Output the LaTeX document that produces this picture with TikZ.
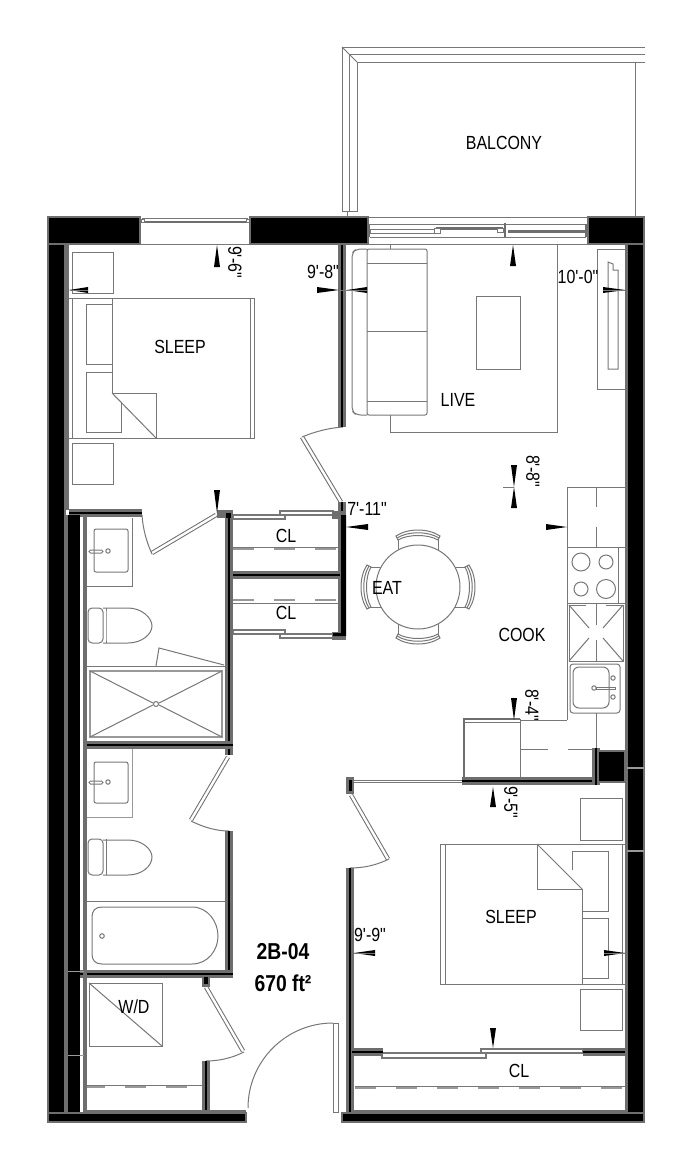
\documentclass[tikz,border=0pt]{standalone}
\usepackage{fontspec}
\newfontfamily\lab[FakeStretch=0.84]{Liberation Sans}
\definecolor{wg}{HTML}{6E6E6E}
\definecolor{ln}{HTML}{777777}
\definecolor{lt}{HTML}{999999}
\tikzset{
  thin line/.style={draw=ln,line width=1pt},
  solid wall/.style={fill=black,draw=wg,line width=1.6pt},
  wall outer/.style={draw=wg,line width=8.4pt,line cap=butt},
  wall core/.style={draw=black,line width=2.8pt,line cap=butt},
  panel/.style={draw=wg,line width=1pt,double=white,double distance=2.4pt},
  slide/.style={draw=ln,fill=white,line width=1.2pt},
  dashline/.style={draw=lt,line width=1.4pt,dash pattern=on 21pt off 20pt},
  label/.style={font=\lab\fontsize{19}{21}\selectfont,text=black,inner sep=0pt},
  biglabel/.style={font=\lab\bfseries\fontsize{23}{25}\selectfont,text=black,inner sep=0pt},
}
\newcommand{\wh}[3]{\fill[black] (#1,#3) -- (#2,#3-3) -- (#2,#3+3) -- cycle;}
\newcommand{\wv}[3]{\fill[black] (#1,#2) -- (#1-3,#3) -- (#1+3,#3) -- cycle;}
\newcommand{\wallseg}[1]{\draw[wall outer] #1; \draw[wall core] #1;}
\begin{document}
\begin{tikzpicture}[x=1pt,y=-1pt]
\useasboundingbox (0,0) rectangle (689,1170);
\fill[white] (0,0) rectangle (689,1170);

% balcony
\draw[thin line] (645,47) -- (342,47) -- (342,211) -- (357,211) -- (357,62) -- (645,62);
\draw[thin line] (645,54) -- (349,54) -- (349,211);
\draw[thin line] (342,47) -- (357,62);
\draw[thin line] (635,62) -- (635,217);
\draw[thin line] (347,211) -- (347,217);
\draw[thin line] (368,217) -- (588,217);

% sliding door to balcony
\draw[thin line] (368,244) -- (588,244);
\draw[thin line] (370,224) -- (586,224);
\draw[thin line] (370,237) -- (586,237);
\draw[draw=wg,line width=3pt] (436,228) -- (503,228);
\draw[thin line,fill=white] (370,229) rectangle (434,233);
\draw[thin line,fill=white] (434,228) rectangle (440,233);
\draw[thin line,fill=white] (497,228) rectangle (503,232);
\draw[draw=wg,line width=3pt] (508,231) -- (586,231);
\draw[draw=wg,line width=2.5pt] (505,223) -- (505,237);
\draw[draw=wg,line width=2pt] (369,224) -- (369,237);
\draw[draw=wg,line width=2pt] (586,224) -- (586,237);

% window, bedroom 1
\draw[thin line] (140,244) -- (250,244);
\draw[thin line] (142,218) -- (248,218);
\draw[draw=wg,line width=1.5pt] (142,222) -- (248,222);
\draw[thin line,fill=white] (141,219) rectangle (144,222);
\draw[thin line,fill=white] (246,219) rectangle (249,222);

% bedroom 1 furniture
\draw[thin line] (72,252) rectangle (113,293);
\draw[thin line] (69,298) -- (254,298) -- (254,438) -- (69,438);
\draw[thin line] (250,298) -- (250,438);
\draw[thin line] (72,298) -- (72,438);
\draw[thin line] (112,298) -- (112,393) -- (156,393) -- (156,438);
\draw[thin line] (112,393) -- (156,438);
\draw[thin line] (112,304) -- (86,304) -- (86,364) -- (112,364);
\draw[thin line] (112,372) -- (86,372) -- (86,432) -- (121,432) -- (121,402);
\draw[thin line] (72,443) rectangle (113,484);

% living
\draw[thin line] (390,244) -- (390,432) -- (557,432) -- (557,244);
\draw[thin line,rounded corners=5pt,fill=white] (367,249) -- (356,249) -- (352,253) -- (352,411) -- (356,415) -- (367,415);
\draw[thin line,rounded corners=2pt,fill=white] (367,249) rectangle (427,415);
\draw[thin line] (367,263) -- (427,263);
\draw[thin line] (367,401) -- (427,401);
\draw[thin line] (367,331) -- (427,331);
\draw[thin line] (476,296) rectangle (520,369);
\draw[thin line] (625,249) -- (597,249) -- (597,389) -- (625,389);
\draw[thin line] (608,369) -- (608,262) -- (613,264) -- (613,270) -- (618,270) -- (618,369) -- cycle;

% kitchen
\draw[thin line] (625,487) -- (567,487) -- (567,720);
\draw[thin line] (567,547) -- (625,547);
\draw[thin line] (596,487) -- (596,507);
\draw[thin line] (596,527) -- (596,547);
\draw[thin line] (618,547) -- (618,603);
\draw[thin line] (567,603) -- (625,603);
\draw[thin line] (581,562) circle[radius=9];
\draw[thin line] (606,562) circle[radius=7];
\draw[thin line] (581,589) circle[radius=7];
\draw[thin line] (606,589) circle[radius=9.5];
\draw[thin line] (569,605) -- (569,661) -- (623,661) -- (623,605);
\draw[thin line] (569,605) -- (586,605) (606,605) -- (623,605);
\draw[thin line] (569,605) -- (589,628) (623,605) -- (603,628);
\draw[thin line] (569,661) -- (589,638) (623,661) -- (603,638);
\draw[thin line] (596,603) -- (596,625) (596,640) -- (596,661);
\draw[thin line,rounded corners=3pt,fill=white] (570,664) rectangle (620,713);
\draw[thin line,rounded corners=6pt] (573,667) rectangle (609,708);
\draw[thin line] (594,688) circle[radius=2.2];
\draw[thin line] (613,697) circle[radius=2.2];
\draw[thin line] (613,678) circle[radius=2.2];
\draw[thin line] (596,687) rectangle (615,689);
\draw[thin line] (520,720) -- (567,720);
\draw[thin line] (596,713) -- (596,749);
\draw[thin line] (520,749) -- (548,749) (568,749) -- (594,749);
\draw[draw=wg,line width=1.6pt] (464,778) -- (464,719) -- (520,719);
\draw[thin line] (464,722) -- (520,722);
\draw[thin line] (520,719) -- (520,778);
\draw[thin line,double=white,double distance=1pt] (354,781) -- (462,781);

% table and chairs
\foreach \a in {0,90,180,270}{
  \begin{scope}[shift={(418,587)},rotate=\a]
    \draw[thin line] (-20,-37) -- (-20,-48);
    \draw[thin line] (20,-37) -- (20,-48);
    \draw[thin line,fill=white] (-22,-51) .. controls (-10,-59) and (10,-59) .. (22,-51) -- (20,-47) .. controls (10,-53) and (-10,-53) .. (-20,-47) -- cycle;
    \draw[thin line] (-21,-49) .. controls (-10,-56) and (10,-56) .. (21,-49);
  \end{scope}
}
\draw[thin line,fill=white] (418,587) circle[radius=42];

% bedroom 2 furniture
\draw[thin line] (580,798) rectangle (622,840);
\draw[thin line] (625,844) -- (440,844) -- (440,984) -- (625,984);
\draw[thin line] (445,844) -- (445,984);
\draw[thin line] (622,844) -- (622,984);
\draw[thin line] (537,844) -- (537,889) -- (582,889) -- (582,984);
\draw[thin line] (537,844) -- (582,889);
\draw[thin line] (572,870) -- (572,851) -- (608,851) -- (608,911) -- (582,911);
\draw[thin line] (582,918) -- (608,918) -- (608,978) -- (582,978);
\draw[thin line] (580,989) rectangle (622,1030);
\draw[thin line] (355,1110) -- (625,1110);
\draw[thin line] (355,1086) -- (625,1086);
\draw[dashline] (355,1088) -- (625,1088);

% bathroom 1
\draw[thin line] (132,518) -- (132,586) -- (87,586);
\draw[thin line,rounded corners=2pt] (94,529) rectangle (128,572);
\draw[thin line,rounded corners=1.5pt] (89,550) rectangle (103,553);
\draw[thin line] (108,551) circle[radius=2.2];
\draw[thin line,rounded corners=4pt] (103,608) -- (88,608) -- (88,643) -- (103,643) -- cycle;
\draw[thin line] (106,608) .. controls (106,620) and (106,632) .. (106,643);
\draw[thin line] (103,608) -- (128,608) .. controls (142,608) and (152,618) .. (152,626) .. controls (152,634) and (142,643) .. (128,643) -- (103,643);
\draw[thin line] (87,666) -- (225,666);
\draw[draw=lt,line width=1.6pt] (90,671) rectangle (222,737);
\draw[thin line] (90,671) -- (153,703) (222,671) -- (159,703);
\draw[thin line] (90,737) -- (153,705) (222,737) -- (159,705);
\draw[thin line] (156,704) circle[radius=2.5];
\draw[thin line] (156,666) -- (159,648) -- (224,665);

% bathroom 2
\draw[draw=lt,line width=1pt] (132,748) -- (132,817) -- (87,817);
\draw[thin line,rounded corners=2pt] (94,762) rectangle (128,803);
\draw[thin line,rounded corners=1.5pt] (89,781) rectangle (103,784);
\draw[thin line] (108,782) circle[radius=2.2];
\draw[thin line,rounded corners=4pt] (103,839) -- (88,839) -- (88,875) -- (103,875) -- cycle;
\draw[thin line] (106,839) -- (106,875);
\draw[thin line] (103,840) -- (128,840) .. controls (142,840) and (152,849) .. (152,857) .. controls (152,866) and (142,875) .. (128,875) -- (103,875);
\draw[thin line] (87,901) -- (225,901);
\draw[thin line] (102,907) -- (192,907) .. controls (208,907) and (218,922) .. (218,936) .. controls (218,950) and (208,964) .. (192,964) -- (102,964) .. controls (95,964) and (92,960) .. (92,954) -- (92,917) .. controls (92,911) and (95,907) .. (102,907) -- cycle;
\draw[thin line] (102,936) circle[radius=2.3];

% laundry
\draw[thin line] (89,983) rectangle (162,1046);
\draw[thin line] (89,983) -- (162,1046);
\draw[thin line] (84,1085) -- (202,1085);
\draw[dashline] (84,1087) -- (202,1087);

% closets
\draw[thin line] (233,547) -- (338,547);
\draw[dashline] (233,549) -- (338,549);
\draw[thin line] (233,603) -- (338,603);
\draw[dashline] (233,600) -- (338,600);

% sliding closet doors
\draw[slide] (233,515) rectangle (285,519);
\draw[slide] (280,511) rectangle (333,515);
\draw[slide] (233,630) rectangle (285,634);
\draw[slide] (280,634) rectangle (333,638);
\draw[slide] (382,1053) rectangle (486,1058);
\draw[slide] (481,1049) rectangle (583,1053);

% doors
\draw[panel] (302,437) -- (341,502);
\draw[thin line] (343,427) .. controls (328,428) and (314,432) .. (302,437);
\draw[panel] (152,553) -- (216,515);
\draw[thin line] (142,515) .. controls (143,530) and (147,543) .. (152,554);
\draw[panel] (228,757) -- (191,820);
\draw[thin line] (191,821) .. controls (203,827) and (216,831) .. (229,831);
\draw[panel] (206,987) -- (243,1051);
\draw[thin line] (244,1052) .. controls (232,1058) and (219,1061) .. (206,1061);
\draw[panel] (351,795) -- (388,859);
\draw[thin line] (389,859) .. controls (377,865) and (364,868) .. (350,868);
\draw[thin line] (333,1023) arc[start angle=270,end angle=180,radius=85];
\draw[thin line,fill=white] (333,1023) rectangle (338,1112);

% partition walls
\draw[fill=wg,draw=none] (65,510) rectangle (69,244);
\wallseg{(342,244) -- (342,427)}
\wallseg{(342,502) -- (342,640)}
\fill[wg] (332,511) rectangle (346,519);
\fill[wg] (332,632) rectangle (346,640);
\fill[black] (341,515) -- (346,515) -- (346,636) -- (333,636) -- (333,633) -- (341,633) -- cycle;
\wallseg{(229,510) -- (229,755)}
\fill[wg] (217,510) rectangle (233,518);
\fill[black] (226,513) rectangle (231,518);
\wallseg{(233,575) -- (340,575)}
\wallseg{(69,513) -- (142,513)}
\wallseg{(83,745) -- (233,745)}
\wallseg{(229,831) -- (229,977)}
\wallseg{(80,974) -- (233,974)}
\fill[wg] (202,977) rectangle (210,987);
\fill[black] (204,977) rectangle (208,984);
\wallseg{(206,1061) -- (206,1113)}
\wallseg{(350,868) -- (350,1113)}
\fill[wg] (346,777) rectangle (354,794);
\fill[black] (349,780) rectangle (352,791);
\wallseg{(462,781) -- (597,781)}
\wallseg{(596,748) -- (596,785)}
\draw[solid wall] (598,751) rectangle (625,782);
\wallseg{(352,1052) -- (383,1052)}
\wallseg{(583,1052) -- (625,1052)}

% bathroom inner edges
\draw[draw=wg,line width=4pt] (85,514) -- (85,1113);
\fill[black] (68,515) rectangle (80,1113);
\draw[draw=lt,line width=1pt] (68,971) -- (84,971) (68,1055) -- (84,1055);
\fill[wg] (65,515) rectangle (68,1113);

% outer walls
\draw[draw=wg,line width=3pt] (626,244) -- (626,1113);
\draw[solid wall] (48,217) rectangle (140,244);
\draw[solid wall] (250,217) rectangle (368,244);
\draw[solid wall] (588,217) rectangle (644,244);
\draw[solid wall] (48,244) rectangle (65,1113);
\draw[solid wall] (627,244) rectangle (644,1113);
\draw[draw=lt,line width=1.6pt] (627,768) -- (644,768) (627,851) -- (644,851);
\draw[solid wall] (48,1113) rectangle (246,1122);
\draw[solid wall] (342,1113) rectangle (644,1122);
\draw[draw=wg,line width=2pt] (83,1111) -- (246,1111);
\draw[draw=wg,line width=2pt] (353,1111) -- (626,1111);

% dimension marks
\wv{217}{245}{267}
\wh{69}{88}{290}
\wh{339}{317}{290}
\wh{347}{367}{290}
\wv{513}{245}{266}
\wh{625}{603}{290}
\wv{514}{487}{465}
\wv{514}{487}{508}
\draw[thin line] (503,487) -- (514,487);
\wh{346}{368}{527}
\wh{567}{546}{527}
\wv{217}{513}{490}
\wv{514}{720}{698}
\wv{493}{787}{807}
\wh{354}{375}{953}
\wh{625}{604}{953}
\wv{493}{1048}{1028}
\draw[thin line] (70,290) -- (88,290) (339,290) -- (367,290) (603,290) -- (625,290) (354,953) -- (375,953) (604,953) -- (625,953);

% labels
\node[label] (balcony) at (504,143) {BALCONY};
\node[label] (sleepa) at (180,347) {SLEEP};
\node[label] (live) at (458,400) {LIVE};
\node[label] (eat) at (387,588) {EAT};
\node[label] (cook) at (522,635) {COOK};
\node[label] (sleepb) at (511,917) {SLEEP};
\node[label] (cla) at (286,536) {CL};
\node[label] (clb) at (286,613) {CL};
\node[label] (clc) at (519,1071) {CL};
\node[label] (wd) at (134,1007) {W/D};
\node[biglabel] (unit) at (283,952) {2B-04};
\node[biglabel] (area) at (283,983) {670 ft²};
\node[label,rotate=-90] (da) at (235,262) {9'-6"};
\node[label] (db) at (323,272) {9'-8"};
\node[label] (dc) at (578,277) {10'-0"};
\node[label,rotate=-90] (dd) at (533,471) {8'-8"};
\node[label] (de) at (367,509) {7'-11"};
\node[label,rotate=-90] (df) at (532,705) {8'-4"};
\node[label,rotate=-90] (dg) at (511,802) {9'-5"};
\node[label] (dh) at (370,935) {9'-9"};
\end{tikzpicture}
\end{document}
